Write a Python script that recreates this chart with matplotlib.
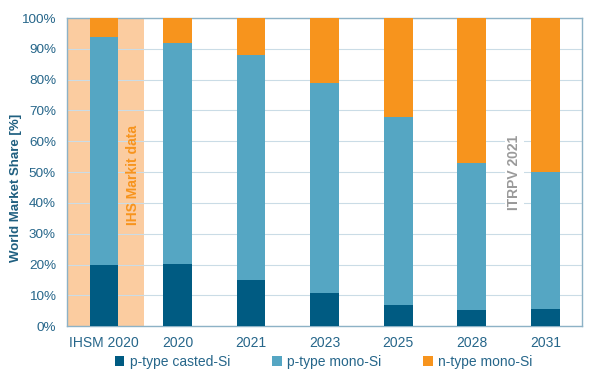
import matplotlib.pyplot as plt
import numpy as np

plt.rcParams['font.family'] = ['Liberation Sans', 'DejaVu Sans']

categories = ['IHSM 2020', '2020', '2021', '2023', '2025', '2028', '2031']
p_casted = [20.0, 20.3, 15.0, 10.7, 6.9, 5.2, 5.4]
p_mono = [74.0, 71.7, 73.0, 68.3, 60.9, 47.8, 44.6]
n_mono = [6.0, 8.0, 12.0, 21.0, 32.2, 47.0, 50.0]

c_cast = '#005B82'
c_pmono = '#55A6C3'
c_nmono = '#F7941D'
txt = '#26668A'

fig = plt.figure(figsize=(5.94, 3.77), dpi=100)
ax = fig.add_axes([0.113, 0.135, 0.867, 0.817])

x = np.arange(len(categories))
w = 0.39

# shaded region for IHS Markit data
ax.axvspan(-0.5, 0.55, color='#FBCCA0', zorder=0, lw=0)

cast = np.array(p_casted)
pm = np.array(p_mono)
nm = np.array(n_mono)
ax.bar(x, cast, w, color=c_cast, label='p-type casted-Si', zorder=3)
ax.bar(x, pm, w, bottom=cast, color=c_pmono, label='p-type mono-Si', zorder=3)
ax.bar(x, nm, w, bottom=cast + pm, color=c_nmono, label='n-type mono-Si', zorder=3)

ax.set_xlim(-0.5, len(categories) - 0.5)
ax.set_ylim(0, 100)
ax.set_yticks(np.arange(0, 101, 10))
ax.set_yticklabels([f'{v}%' for v in range(0, 101, 10)])
ax.set_xticks(x)
ax.set_xticklabels(categories)
ax.tick_params(axis='y', length=0, labelsize=9.7, colors=txt, pad=8)
ax.tick_params(axis='x', length=0, labelsize=10, colors=txt, pad=7)
ax.grid(axis='y', color='#CADCE6', lw=0.8, zorder=1)
ax.set_axisbelow(True)
for s in ax.spines.values():
    s.set_color('#8DB2C6')
    s.set_linewidth(1)

ax.set_ylabel('World Market Share [%]', fontsize=9.5, fontweight='bold', color='#1F5F80')
ax.yaxis.set_label_coords(-0.088, 0.45)

ax.text(0.4, 49, 'IHS Markit data', rotation=90, ha='center', va='center',
        fontsize=10, fontweight='bold', color='#F7941D', zorder=4)
ax.text(5.58, 50, 'ITRPV 2021', rotation=90, ha='center', va='center',
        fontsize=10, fontweight='bold', color='#9A9A9A', zorder=4,
        bbox=dict(facecolor='white', edgecolor='none', pad=2))

leg = fig.legend(loc='lower center', ncol=3, bbox_to_anchor=(0.545, -0.012),
                 frameon=False, fontsize=10, handlelength=0.7, handleheight=0.7,
                 columnspacing=3.0, handletextpad=0.4)
for t in leg.get_texts():
    t.set_color(txt)

fig.savefig('out.png', dpi=100)
